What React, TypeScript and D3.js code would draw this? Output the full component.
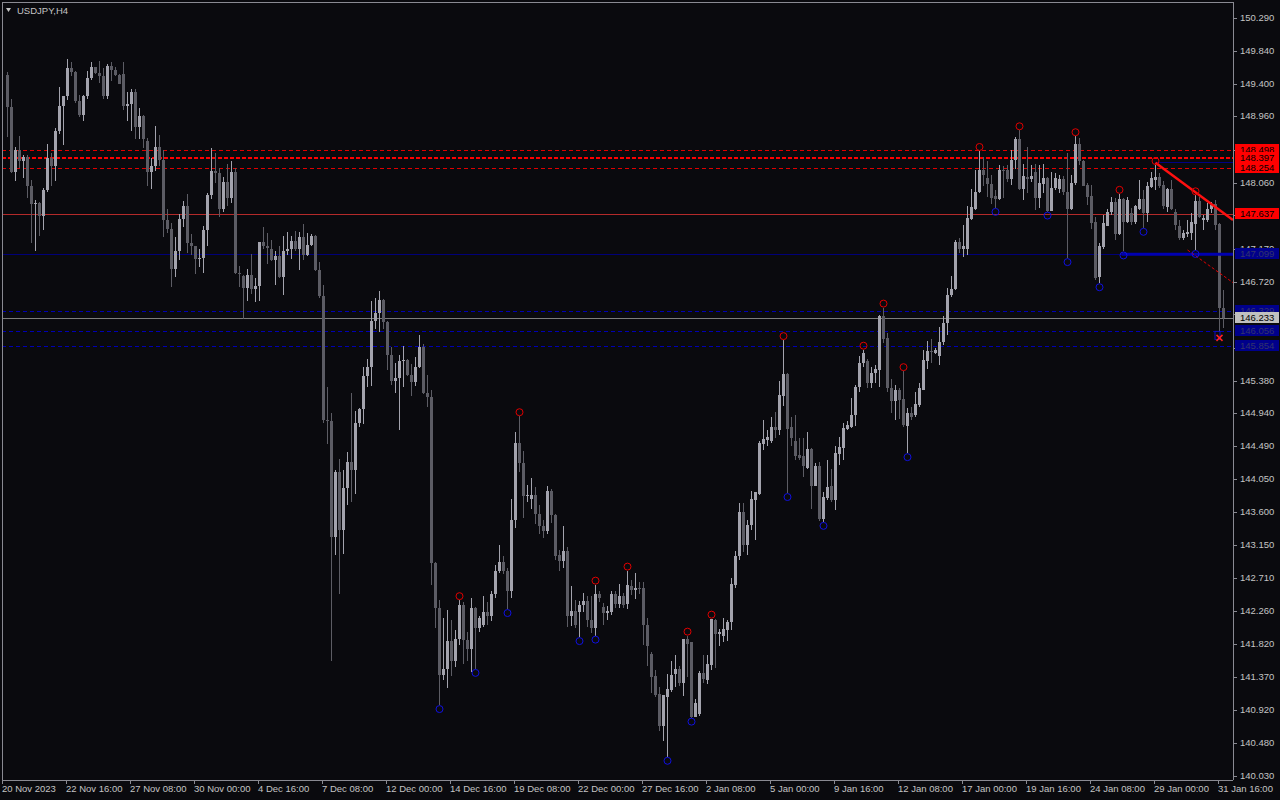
import React from 'react';
import * as d3 from 'd3';

// USDJPY H4 candles, slot 1 = first fully visible bar
const opens = [
  149.52, 149.08, 148.20, 148.51, 148.35, 148.41, 148.01, 147.77, 147.79, 147.61,
  147.96, 148.40, 148.29, 148.76, 149.10, 149.23, 149.61, 149.56, 149.17, 148.98,
  149.23, 149.48, 149.62, 149.55, 149.51, 149.23, 149.64, 149.59, 149.52, 149.53,
  149.10, 149.13, 149.29, 148.81, 148.96, 148.63, 148.20, 148.29, 148.54, 148.37,
  147.55, 147.43, 146.89, 147.14, 147.57, 147.74, 147.25, 147.20, 147.03, 147.04,
  147.42, 147.89, 148.22, 148.19, 147.71, 148.07, 147.86, 148.20, 146.84, 146.80,
  146.64, 146.81, 146.62, 146.66, 147.26, 147.20, 147.16, 147.01, 147.07, 146.78,
  147.14, 147.16, 147.27, 147.16, 147.33, 147.08, 147.22, 147.34, 146.88, 146.53,
  144.85, 144.83, 143.26, 144.15, 143.36, 143.93, 144.28, 144.17, 144.81, 145.00,
  145.44, 145.56, 146.19, 146.30, 146.47, 146.18, 145.73, 145.37, 145.42, 145.65,
  145.66, 145.46, 145.36, 145.57, 145.84, 145.21, 145.16, 142.91, 142.31, 141.40,
  141.48, 141.86, 141.58, 141.89, 142.35, 141.87, 141.75, 142.31, 142.03, 142.07,
  142.25, 142.19, 142.49, 142.81, 142.92, 142.80, 142.54, 143.50, 144.54, 144.27,
  143.82, 143.78, 143.83, 143.58, 143.41, 143.34, 143.89, 143.56, 143.02, 142.94,
  143.08, 142.20, 142.26, 142.25, 142.35, 142.40, 142.14, 142.03, 142.49, 142.32,
  142.24, 142.25, 142.49, 142.36, 142.47, 142.36, 142.60, 142.55, 142.57, 142.57,
  142.07, 141.68, 141.38, 141.14, 140.71, 141.10, 141.19, 141.41, 141.48, 141.29,
  141.89, 141.84, 140.83, 140.87, 141.43, 141.33, 141.53, 142.14, 141.95, 141.93,
  142.00, 142.11, 142.62, 143.01, 143.61, 143.16, 143.43, 143.76, 143.85, 144.52,
  144.58, 144.57, 144.75, 144.71, 145.17, 145.47, 144.75, 144.56, 144.38, 144.36,
  144.20, 144.46, 143.96, 144.23, 143.51, 143.79, 143.95, 143.76, 144.39, 144.47,
  144.73, 144.76, 144.92, 145.29, 145.62, 145.65, 145.35, 145.49, 145.53, 146.25,
  145.96, 145.28, 145.10, 145.26, 145.13, 144.77, 144.95, 144.92, 145.05, 145.26,
  145.65, 145.78, 145.76, 145.71, 145.90, 146.16, 146.54, 146.62, 147.26, 147.17,
  147.17, 147.57, 147.71, 147.94, 148.23, 148.12, 148.04, 147.88, 147.84, 148.23,
  148.23, 148.11, 148.37, 148.65, 147.98, 148.14, 148.11, 148.21, 147.86, 148.04,
  148.12, 147.68, 147.99, 147.97, 148.11, 147.93, 147.71, 148.05, 148.59, 148.35,
  148.03, 147.88, 147.53, 146.78, 147.19, 147.48, 147.66, 147.80, 147.37, 147.84,
  147.53, 147.65, 147.53, 147.71, 147.84, 147.65, 148.00, 148.10, 148.14, 148.03,
  147.73, 147.97, 147.67, 147.48, 147.31, 147.37, 147.38, 147.50, 147.81, 147.55,
  147.55, 147.71, 147.77, 147.50, 146.36,
];
const highs = [
  149.56, 149.20, 148.55, 148.69, 148.44, 148.44, 148.10, 147.83, 147.80, 147.99,
  148.59, 148.46, 148.80, 149.36, 149.23, 149.74, 149.70, 149.57, 149.25, 149.25,
  149.57, 149.69, 149.63, 149.71, 149.61, 149.67, 149.69, 149.62, 149.53, 149.69,
  149.29, 149.33, 149.33, 149.07, 148.98, 148.66, 148.39, 148.83, 148.71, 148.51,
  147.71, 147.51, 147.32, 147.64, 147.81, 147.91, 147.37, 147.21, 147.17, 147.47,
  147.92, 148.53, 148.46, 148.26, 148.14, 148.31, 148.35, 148.26, 146.93, 146.81,
  146.89, 147.10, 146.77, 147.26, 147.46, 147.38, 147.29, 147.14, 147.20, 147.34,
  147.39, 147.34, 147.41, 147.39, 147.50, 147.38, 147.37, 147.35, 146.99, 146.68,
  145.29, 144.95, 144.17, 144.32, 144.17, 144.41, 145.21, 144.97, 145.01, 145.56,
  145.67, 146.46, 146.50, 146.60, 146.49, 146.19, 145.84, 145.62, 145.73, 145.85,
  145.67, 145.61, 145.70, 146.00, 145.88, 145.46, 145.26, 142.92, 142.41, 142.17,
  142.28, 142.14, 142.01, 142.41, 142.39, 141.98, 142.44, 142.32, 142.19, 142.46,
  142.38, 142.54, 142.89, 143.16, 143.01, 142.84, 143.78, 144.69, 144.90, 144.43,
  143.97, 144.06, 143.94, 143.70, 143.50, 143.95, 143.92, 143.57, 143.09, 143.41,
  143.13, 142.60, 142.41, 142.40, 142.51, 142.47, 142.47, 142.62, 142.53, 142.37,
  142.33, 142.53, 142.53, 142.63, 142.51, 142.81, 142.68, 142.78, 142.66, 142.65,
  142.17, 141.71, 141.46, 141.24, 141.13, 141.41, 141.58, 141.67, 141.52, 141.89,
  141.93, 141.85, 141.07, 141.45, 141.67, 141.67, 142.16, 142.15, 142.02, 142.17,
  142.14, 142.71, 143.07, 143.73, 143.73, 143.50, 143.89, 143.88, 144.56, 144.85,
  144.71, 144.89, 144.96, 145.37, 145.93, 145.48, 144.89, 144.92, 144.61, 144.60,
  144.69, 144.47, 144.26, 144.28, 143.88, 144.31, 144.19, 144.49, 144.62, 144.81,
  144.83, 145.14, 145.32, 145.72, 145.80, 145.67, 145.56, 145.59, 146.27, 146.37,
  146.02, 145.40, 145.32, 145.28, 145.51, 145.01, 145.02, 145.23, 145.35, 145.80,
  145.92, 145.94, 145.82, 146.11, 146.25, 146.63, 146.80, 147.29, 147.31, 147.49,
  147.74, 147.98, 148.23, 148.49, 148.41, 148.35, 148.17, 147.96, 148.30, 148.28,
  148.30, 148.50, 148.68, 148.77, 148.31, 148.55, 148.30, 148.32, 148.30, 148.31,
  148.14, 148.21, 148.19, 148.17, 148.15, 148.46, 148.17, 148.69, 148.67, 148.37,
  148.05, 148.03, 147.60, 147.24, 147.63, 147.71, 147.87, 147.85, 147.91, 147.85,
  147.87, 147.72, 147.76, 148.10, 147.96, 148.07, 148.21, 148.30, 148.19, 148.08,
  147.99, 148.10, 147.71, 147.56, 147.42, 147.56, 147.65, 147.89, 147.87, 147.63,
  147.78, 147.80, 147.83, 147.51, 146.61,
];
const lows = [
  148.68, 148.19, 148.09, 148.26, 148.13, 147.86, 147.24, 147.14, 147.34, 147.42,
  147.94, 148.01, 148.09, 148.72, 148.57, 149.18, 149.51, 149.14, 148.95, 148.89,
  149.20, 149.45, 149.53, 149.41, 149.19, 149.20, 149.44, 149.50, 149.39, 149.05,
  148.89, 148.76, 148.65, 148.65, 148.53, 148.02, 147.97, 148.22, 148.29, 147.32,
  147.38, 146.65, 146.79, 147.01, 147.46, 147.11, 147.08, 146.83, 146.92, 146.84,
  147.20, 147.84, 148.05, 147.60, 147.67, 147.74, 147.79, 146.83, 146.65, 146.22,
  146.46, 146.55, 146.45, 146.46, 147.16, 146.96, 147.00, 146.67, 146.77, 146.54,
  147.08, 147.03, 147.14, 146.88, 147.01, 147.07, 147.20, 146.87, 146.50, 144.81,
  144.53, 141.58, 143.02, 142.49, 143.04, 143.70, 143.74, 143.85, 144.75, 144.80,
  145.29, 145.31, 146.08, 146.04, 146.08, 145.53, 145.32, 145.22, 144.71, 145.30,
  145.44, 145.17, 145.31, 145.55, 145.20, 145.02, 142.62, 142.04, 140.99, 141.33,
  141.22, 141.38, 141.51, 141.80, 141.55, 141.58, 141.44, 141.48, 141.98, 142.05,
  142.07, 142.13, 142.44, 142.78, 142.77, 142.29, 142.44, 143.39, 144.15, 143.52,
  143.74, 143.64, 143.44, 143.31, 143.25, 143.31, 143.45, 142.95, 142.80, 142.84,
  142.05, 142.06, 142.03, 141.91, 142.25, 142.05, 141.96, 141.93, 142.39, 142.07,
  142.14, 142.21, 142.30, 142.31, 142.30, 142.29, 142.48, 142.43, 142.50, 141.80,
  141.52, 141.16, 141.10, 140.64, 140.50, 140.29, 141.17, 141.24, 141.25, 141.11,
  141.37, 140.82, 140.83, 140.84, 141.29, 141.28, 141.47, 141.49, 141.79, 141.85,
  141.86, 142.00, 142.57, 142.95, 143.06, 143.02, 143.36, 143.23, 143.83, 144.44,
  144.50, 144.54, 144.60, 144.65, 145.04, 143.86, 144.49, 144.31, 144.31, 144.08,
  144.18, 143.64, 143.95, 143.48, 143.47, 143.77, 143.74, 143.63, 144.24, 144.31,
  144.71, 144.74, 144.77, 145.23, 145.56, 145.28, 145.28, 145.35, 145.30, 145.89,
  145.23, 144.94, 144.85, 144.86, 144.76, 144.40, 144.85, 144.89, 145.03, 145.25,
  145.54, 145.62, 145.74, 145.59, 145.86, 146.00, 146.51, 146.61, 147.11, 147.06,
  147.08, 147.56, 147.69, 147.92, 148.01, 147.87, 147.77, 147.72, 147.83, 147.85,
  148.07, 148.03, 148.24, 147.96, 147.83, 147.92, 148.07, 147.69, 147.72, 147.92,
  147.67, 147.68, 147.96, 147.92, 147.89, 147.04, 147.69, 148.03, 148.30, 148.01,
  147.76, 147.44, 146.74, 146.70, 147.17, 147.47, 147.62, 147.29, 147.35, 147.13,
  147.51, 147.49, 147.50, 147.69, 147.45, 147.53, 147.99, 147.96, 147.99, 147.71,
  147.67, 147.69, 147.42, 147.29, 147.29, 147.33, 147.29, 147.15, 147.58, 147.42,
  147.53, 147.65, 147.42, 146.04, 146.09,
];
const closes = [
  149.08, 148.20, 148.51, 148.35, 148.41, 148.01, 147.77, 147.79, 147.61, 147.96,
  148.40, 148.29, 148.76, 149.10, 149.23, 149.61, 149.56, 149.17, 148.98, 149.23,
  149.48, 149.62, 149.55, 149.51, 149.23, 149.64, 149.59, 149.52, 149.40, 149.10,
  149.13, 149.29, 148.81, 148.96, 148.65, 148.20, 148.29, 148.54, 148.37, 147.55,
  147.43, 146.89, 147.14, 147.57, 147.74, 147.25, 147.20, 147.03, 147.04, 147.42,
  147.89, 148.22, 148.19, 147.71, 148.07, 147.86, 148.20, 146.84, 146.83, 146.64,
  146.81, 146.62, 146.66, 147.26, 147.20, 147.18, 147.01, 147.07, 146.78, 147.14,
  147.16, 147.27, 147.16, 147.33, 147.08, 147.22, 147.34, 146.88, 146.53, 144.85,
  144.83, 143.26, 144.15, 143.36, 143.93, 144.28, 144.17, 144.81, 145.00, 145.44,
  145.56, 146.19, 146.30, 146.47, 146.18, 145.73, 145.37, 145.42, 145.65, 145.66,
  145.46, 145.36, 145.57, 145.84, 145.21, 145.16, 142.91, 142.31, 141.40, 141.48,
  141.86, 141.58, 141.89, 142.35, 141.87, 141.75, 142.31, 142.03, 142.17, 142.25,
  142.19, 142.49, 142.81, 142.92, 142.80, 142.54, 143.50, 144.54, 144.27, 143.82,
  143.83, 143.83, 143.58, 143.41, 143.34, 143.89, 143.56, 143.01, 142.94, 143.08,
  142.20, 142.26, 142.07, 142.35, 142.40, 142.14, 142.03, 142.49, 142.44, 142.24,
  142.27, 142.49, 142.36, 142.47, 142.35, 142.62, 142.55, 142.57, 142.56, 142.07,
  141.79, 141.37, 141.13, 140.71, 141.12, 141.21, 141.40, 141.48, 141.29, 141.89,
  141.82, 140.83, 141.02, 141.43, 141.34, 141.55, 142.15, 141.95, 141.98, 142.02,
  142.12, 142.63, 143.01, 143.61, 143.16, 143.43, 143.78, 143.87, 144.54, 144.59,
  144.62, 144.75, 144.71, 145.19, 145.47, 144.73, 144.60, 144.36, 144.34, 144.22,
  144.46, 143.95, 144.22, 143.51, 143.80, 143.94, 143.76, 144.40, 144.48, 144.74,
  144.78, 144.92, 145.29, 145.62, 145.75, 145.35, 145.49, 145.54, 146.25, 145.94,
  145.28, 145.10, 145.26, 145.12, 144.78, 144.95, 144.89, 145.07, 145.28, 145.66,
  145.78, 145.77, 145.79, 145.91, 146.16, 146.54, 146.62, 147.26, 147.17, 147.20,
  147.58, 147.73, 147.94, 148.23, 148.17, 148.04, 147.86, 147.84, 148.23, 148.22,
  148.11, 148.37, 148.65, 147.98, 148.15, 148.11, 148.15, 147.86, 148.06, 148.12,
  147.68, 147.99, 148.13, 148.11, 147.93, 147.71, 148.05, 148.59, 148.36, 148.02,
  147.87, 147.52, 146.77, 147.20, 147.52, 147.67, 147.80, 147.37, 147.84, 147.53,
  147.83, 147.53, 147.74, 147.84, 147.65, 148.01, 148.12, 148.14, 148.02, 147.74,
  147.97, 147.71, 147.49, 147.31, 147.38, 147.40, 147.53, 147.81, 147.60, 147.58,
  147.71, 147.76, 147.49, 146.36, 146.233,
];

// time axis: one label every 16 bars
const timeLabels = [
  '20 Nov 2023', '22 Nov 16:00', '27 Nov 08:00', '30 Nov 00:00', '4 Dec 16:00',
  '7 Dec 08:00', '12 Dec 00:00', '14 Dec 16:00', '19 Dec 08:00', '22 Dec 00:00',
  '27 Dec 16:00', '2 Jan 08:00', '5 Jan 00:00', '9 Jan 16:00', '12 Jan 08:00',
  '17 Jan 00:00', '19 Jan 16:00', '24 Jan 08:00', '29 Jan 00:00', '31 Jan 16:00',
];
const priceTicks = [
  150.29, 149.84, 149.40, 148.96, 148.51, 148.06, 147.62, 147.17, 146.72, 146.28,
  145.83, 145.38, 144.94, 144.49, 144.05, 143.60, 143.15, 142.71, 142.26, 141.82,
  141.37, 140.92, 140.48, 140.03,
];

// fractal markers (bar slots)
const fractalUp = [114, 129, 148, 156, 171, 177, 195, 215, 220, 225, 244, 254, 268, 279, 288, 298];
const fractalDown = [109, 118, 126, 144, 148, 166, 172, 196, 205, 226, 248, 261, 266, 274, 280, 285, 298];

// horizontal levels
const redDashed = [148.498, 148.254];
const redDashedBold = [148.397];
const redSolid = [147.637];
const blueSolid = [147.099];
const blueDashed = [146.329, 146.056, 145.854];
const bidPrice = 146.233;

// drawn objects (slot, price)
const trendRed = [[288, 148.33], [300, 147.85]];
const trendRedDash = [[296, 147.15], [305, 146.80]];
const blueRay = { slot: 280, price: 147.099 };
const blueRayTop = { slot: 288, price: 148.345 };
const crossMark = { slot: 304, price: 145.96 };

const W = 1280;
const H = 800;
const right = 1233;
const bottom = 780;

const BG = '#0a0a0e';
const BULL = '#a3a3ad';
const BEAR = '#5c5c64';
const TXT = '#c4c4c4';
const FONT = '"Liberation Sans", Arial, sans-serif';

export default function App() {
  const x = d3.scaleLinear().domain([0, 1]).range([3.5, 7.5]);
  const y = d3.scaleLinear().domain([140.03, 150.29]).range([776, 18]);

  const candles = opens.map((o, i) => {
    const slot = i + 1;
    const c = closes[i];
    const cx = x(slot);
    const top = Math.round(y(Math.max(o, c)));
    const bot = Math.round(y(Math.min(o, c)));
    const hy = Math.round(y(highs[i]));
    const ly = Math.round(y(lows[i]));
    const col = c >= o ? BULL : BEAR;
    return (
      <g key={i}>
        <rect x={cx - 0.5} y={hy} width={1} height={Math.max(1, ly - hy)} fill={col} />
        <rect x={cx - 1.5} y={top} width={3} height={Math.max(1, bot - top)} fill={col} />
      </g>
    );
  });

  const lineAcross = (p: number, key: string, stroke: string, width: number, dash?: string) => {
    const yy = Math.round(y(p)) + (width % 2 ? 0.5 : 0);
    return <line key={key} x1={2} x2={right} y1={yy} y2={yy} stroke={stroke} strokeWidth={width} strokeDasharray={dash} />;
  };

  const trendPath = (pts: number[][]) => {
    const [a, b] = pts;
    const x1 = x(a[0]), y1 = y(a[1]), x2 = x(b[0]), y2 = y(b[1]);
    const k = (y2 - y1) / (x2 - x1);
    return { x1, y1, x2: right, y2: y1 + k * (right - x1) };
  };
  const tr = trendPath(trendRed);
  const td = trendPath(trendRedDash);

  const tag = (p: number, label: string, bg: string, fg: string, key: string) => {
    const yy = Math.round(y(p));
    return (
      <g key={key}>
        <rect x={right + 2} y={yy - 6} width={44} height={11} fill={bg} />
        <text x={right + 7} y={yy} dy="0.35em" fill={fg} fontSize={9.5} fontFamily={FONT}>{label}</text>
      </g>
    );
  };

  const cm = { cx: x(crossMark.slot), cy: y(crossMark.price) };

  return (
    <div style={{ position: 'fixed', left: 0, top: 0, width: W, height: H, background: BG }}>
      <svg width={W} height={H} style={{ display: 'block' }}>
        <rect x={0} y={0} width={W} height={H} fill={BG} />
        <defs>
          <clipPath id="plot">
            <rect x={0} y={2} width={right} height={bottom - 2} />
          </clipPath>
        </defs>

        <g clipPath="url(#plot)">
          {/* levels behind the bars */}
          {redDashed.map((p, i) => lineAcross(p, 'rd' + i, '#e00000', 1, '4,3'))}
          {redDashedBold.map((p, i) => lineAcross(p, 'rb' + i, '#ff0000', 2, '4,2'))}
          {redSolid.map((p, i) => lineAcross(p, 'rs' + i, '#b42a2a', 1))}
          {blueSolid.map((p, i) => lineAcross(p, 'bs' + i, '#000078', 1))}
          {blueDashed.map((p, i) => lineAcross(p, 'bd' + i, '#0000b4', 1, '4,3'))}
          {lineAcross(bidPrice, 'bid', '#7c7c7c', 1)}

          {candles}

          {/* drawn objects */}
          <line x1={x(blueRay.slot) - 2} x2={right} y1={y(blueRay.price) + 0.5} y2={y(blueRay.price) + 0.5} stroke="#0000b0" strokeWidth={3} />
          <line x1={x(blueRayTop.slot)} x2={right} y1={Math.round(y(blueRayTop.price)) + 0.5} y2={Math.round(y(blueRayTop.price)) + 0.5} stroke="#000084" strokeWidth={1} />
          <line {...tr} stroke="#ff1010" strokeWidth={2.5} />
          <line {...td} stroke="#e00000" strokeWidth={1} strokeDasharray="3,2" />

          {fractalUp.map((s) => (
            <circle key={'u' + s} cx={x(s)} cy={y(highs[s - 1]) - 4} r={3.5} fill="none" stroke="#e00000" strokeWidth={1} />
          ))}
          {fractalDown.map((s) => (
            <circle key={'d' + s} cx={x(s)} cy={y(lows[s - 1]) + 4} r={3.5} fill="none" stroke="#1010e0" strokeWidth={1} />
          ))}

          <rect x={cm.cx - 4.5} y={cm.cy - 6.5} width={5} height={8} fill="none" stroke="#1010c0" strokeWidth={1} />
          <path d={`M${cm.cx - 3},${cm.cy - 3}L${cm.cx + 3},${cm.cy + 3}M${cm.cx + 3},${cm.cy - 3}L${cm.cx - 3},${cm.cy + 3}`} stroke="#ff2020" strokeWidth={1.5} />
        </g>

        {/* frame */}
        <line x1={2.5} x2={2.5} y1={2} y2={bottom} stroke="#8a8a92" />
        <line x1={2} x2={right} y1={2.5} y2={2.5} stroke="#8a8a92" />
        <line x1={right + 0.5} x2={right + 0.5} y1={2} y2={bottom} stroke="#8a8a92" />
        <line x1={2} x2={right} y1={bottom + 0.5} y2={bottom + 0.5} stroke="#8a8a92" />

        {/* price axis */}
        {priceTicks.map((p) => {
          const yy = Math.round(y(p));
          return (
            <g key={'p' + p}>
              <line x1={right} x2={right + 4} y1={yy + 0.5} y2={yy + 0.5} stroke="#8a8a92" />
              <text x={right + 7} y={yy} dy="0.35em" fill={TXT} fontSize={9.5} fontFamily={FONT}>{p.toFixed(3)}</text>
            </g>
          );
        })}

        {/* time axis */}
        {timeLabels.map((t, j) => {
          const xx = x(j * 16);
          return (
            <g key={t}>
              <line x1={Math.round(xx) - 1.5} x2={Math.round(xx) - 1.5} y1={bottom} y2={bottom + 4} stroke="#8a8a92" />
              <text x={xx - 1.5} y={792} fill={TXT} fontSize={9.5} fontFamily={FONT}>{t}</text>
            </g>
          );
        })}

        {/* line price tags */}
        {tag(148.498, '148.498', '#ff0000', '#000', 't1')}
        {tag(148.397, '148.397', '#ff0000', '#000', 't2')}
        {tag(148.254, '148.254', '#ff0000', '#000', 't3')}
        {tag(147.637, '147.637', '#ff0000', '#000', 't4')}
        {tag(147.099, '147.099', '#00008b', '#34346c', 't5')}
        {tag(146.329, '146.329', '#00008b', '#34346c', 't6')}
        {tag(bidPrice, '146.233', '#c0c0c0', '#000', 't7')}
        {tag(146.056, '146.056', '#00008b', '#34346c', 't8')}
        {tag(145.854, '145.854', '#00008b', '#34346c', 't9')}

        {/* symbol title */}
        <path d="M6,8L11,8L8.5,12Z" fill={TXT} />
        <text x={17} y={13.5} fill={TXT} fontSize={9.5} fontFamily={FONT}>USDJPY,H4</text>
      </svg>
    </div>
  );
}
